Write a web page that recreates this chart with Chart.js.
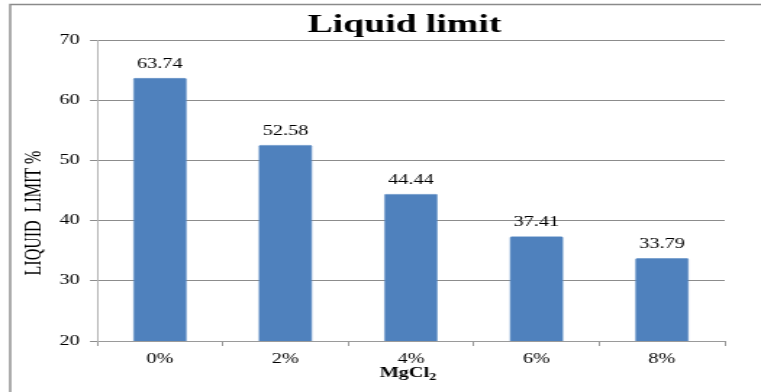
<!DOCTYPE html>
<html>
<head>
<meta charset="utf-8">
<script src="https://cdn.jsdelivr.net/npm/chart.js@4"></script>
<style>
  html, body { margin: 0; padding: 0; background: #fff; overflow: hidden; }
  #wrap { position: absolute; left: 0; top: 0; width: 525px; height: 392px;
          transform: scaleX(1.4495); transform-origin: 0 0; }
  canvas { display: block; }
</style>
</head>
<body>
<div id="wrap"><canvas id="c" width="525" height="392" style="width:525px;height:392px"></canvas></div>
<script>
// Liquid limit of the soil for each MgCl2 dosage
const categories = ['0%', '2%', '4%', '6%', '8%'];
const liquidLimit = [63.74, 52.58, 44.44, 37.41, 33.79];
const yTicks = [20, 30, 40, 50, 60, 70];

const chartTitle = 'Liquid limit';
const yAxisTitle = 'LIQUID  LIMIT %';
const xAxisTitle = 'MgCl';
const xAxisTitleSub = '2';

const SERIF = '"Liberation Serif", "Times New Roman", serif';
Chart.defaults.font.family = SERIF;
Chart.defaults.color = '#000';

// outer frame of the chart object
const framePlugin = {
  id: 'frame',
  beforeDraw(chart) {
    const ctx = chart.ctx;
    ctx.save();
    ctx.fillStyle = '#fff';
    ctx.fillRect(0, 0, chart.width, chart.height);
    ctx.strokeStyle = '#8a8a8a';
    ctx.lineWidth = 1.4;
    ctx.beginPath();
    ctx.moveTo(7, chart.height + 5);
    ctx.lineTo(7, 4.5);
    ctx.lineTo(chart.width + 5, 4.5);
    ctx.stroke();
    ctx.restore();
  }
};

// value labels above each bar
const valueLabels = {
  id: 'valueLabels',
  afterDatasetsDraw(chart) {
    const ctx = chart.ctx;
    const meta = chart.getDatasetMeta(0);
    ctx.save();
    ctx.font = '14px ' + SERIF;
    ctx.fillStyle = '#000';
    ctx.textAlign = 'center';
    ctx.textBaseline = 'alphabetic';
    meta.data.forEach((bar, i) => {
      ctx.fillText(liquidLimit[i].toFixed(2), bar.x, bar.y - 10);
    });
    ctx.restore();
  }
};

// chart title and axis titles (the x title carries a subscript)
const titles = {
  id: 'titles',
  afterDraw(chart) {
    const ctx = chart.ctx;
    const area = chart.chartArea;
    ctx.save();
    ctx.fillStyle = '#000';

    ctx.font = 'bold 26px ' + SERIF;
    ctx.textAlign = 'center';
    ctx.textBaseline = 'alphabetic';
    ctx.fillText(chartTitle, 279, 32);

    ctx.save();
    ctx.translate(23.5, 213);
    ctx.rotate(-Math.PI / 2);
    ctx.font = '16px ' + SERIF;
    ctx.textAlign = 'center';
    ctx.textBaseline = 'middle';
    ctx.fillText(yAxisTitle, 0, 0);
    ctx.restore();

    ctx.font = 'bold 14px ' + SERIF;
    const wMain = ctx.measureText(xAxisTitle).width;
    ctx.font = 'bold 10px ' + SERIF;
    const wSub = ctx.measureText(xAxisTitleSub).width;
    const cx = (area.left + area.right) / 2 - 2;
    const x0 = cx - (wMain + wSub) / 2;
    ctx.textAlign = 'left';
    ctx.font = 'bold 14px ' + SERIF;
    ctx.fillText(xAxisTitle, x0, 377);
    ctx.font = 'bold 10px ' + SERIF;
    ctx.fillText(xAxisTitleSub, x0 + wMain, 380);
    ctx.restore();
  }
};

new Chart(document.getElementById('c'), {
  type: 'bar',
  data: {
    labels: categories,
    datasets: [{
      data: liquidLimit,
      backgroundColor: '#4f81bd',
      borderColor: '#5f8fc8',
      borderWidth: 0.6,
      borderRadius: 1.5,
      borderSkipped: 'bottom',
      barPercentage: 0.43,
      categoryPercentage: 1.0
    }]
  },
  options: {
    responsive: false,
    animation: false,
    devicePixelRatio: 1,
    layout: { padding: { left: 0, right: 25, top: 40, bottom: 0 } },
    plugins: { legend: { display: false }, title: { display: false }, tooltip: { enabled: false } },
    scales: {
      x: {
        offset: true,
        grid: { offset: true, drawOnChartArea: false, drawTicks: true, tickLength: 5, color: '#9a9a9a' },
        border: { display: true, color: '#9a9a9a' },
        ticks: { font: { size: 14 }, color: '#000', padding: 5, maxRotation: 0 },
        afterFit(scale) { scale.height = 51; }
      },
      y: {
        min: yTicks[0],
        max: yTicks[yTicks.length - 1],
        ticks: { stepSize: yTicks[1] - yTicks[0], font: { size: 14 }, color: '#000', padding: 7 },
        grid: { color: '#8c8c8c', tickLength: 5, drawTicks: true },
        border: { display: true, color: '#b5b5b5' },
        afterFit(scale) { scale.width = 67; }
      }
    }
  },
  plugins: [framePlugin, valueLabels, titles]
});
</script>
</body>
</html>
